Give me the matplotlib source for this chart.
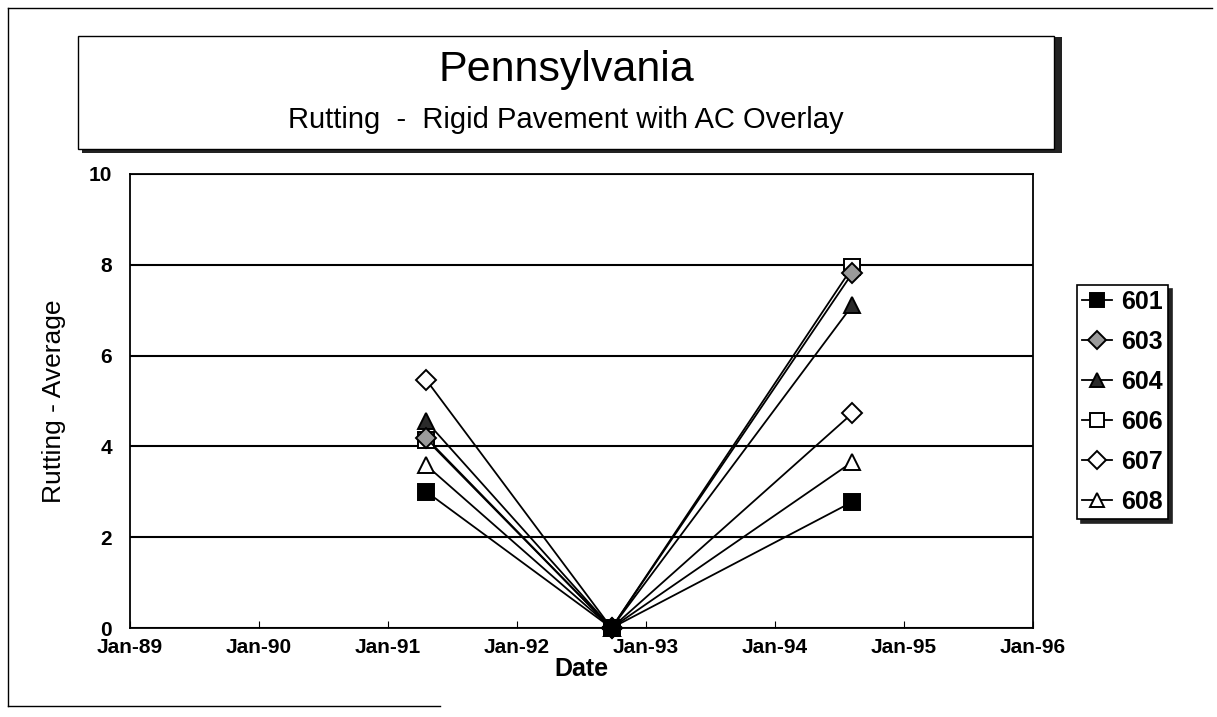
import matplotlib
matplotlib.use("Agg")
import matplotlib.pyplot as plt
import matplotlib.dates as mdates
from matplotlib.patches import Rectangle
from matplotlib.lines import Line2D
import pandas as pd

plt.rcParams["font.family"] = ["Liberation Sans", "DejaVu Sans"]

# survey dates and section averages
dates = pd.to_datetime(["1991-04-20", "1992-09-25", "1994-08-08"])
sections = ["601", "603", "604", "606", "607", "608"]
rut_601 = [3.0, 0.0, 2.78]
rut_603 = [4.18, 0.0, 7.82]
rut_604 = [4.55, 0.0, 7.11]
rut_606 = [4.15, 0.0, 7.95]
rut_607 = [5.46, 0.0, 4.73]
rut_608 = [3.58, 0.0, 3.66]

series = [rut_601, rut_603, rut_604, rut_606, rut_607, rut_608]
markers = ["s", "D", "^", "s", "D", "^"]
faces = ["black", "#9a9a9a", "#2a2a2a", "white", "white", "white"]
sizes = [11, 10, 11, 11, 10, 11]
layers = [6, 5, 3, 4, 3, 3]

W, H = 1217, 717
fig = plt.figure(figsize=(W / 100, H / 100), dpi=100)


def fx(px):
    return px / W


def fy(py):
    return 1 - py / H


# outer frame (scan border)
fig.add_artist(Line2D([fx(8), fx(1212)], [fy(8), fy(8)], color="black", lw=1))
fig.add_artist(Line2D([fx(8), fx(8)], [fy(8), fy(706)], color="black", lw=1))
fig.add_artist(Line2D([fx(8), fx(440)], [fy(706), fy(706)], color="black", lw=1))

# title box with shadow
fig.add_artist(Rectangle((fx(82), fy(153)), fx(1058) - fx(78), fy(36) - fy(153) - 0.002,
                         facecolor="#222222", edgecolor="none", transform=fig.transFigure))
fig.add_artist(Rectangle((fx(78), fy(149)), fx(1054) - fx(78), fy(36) - fy(149),
                         facecolor="white", edgecolor="black", lw=1, transform=fig.transFigure))
fig.text(fx(566), fy(70), "Pennsylvania", ha="center", va="center", fontsize=31)
fig.text(fx(566), fy(120), "Rutting  -  Rigid Pavement with AC Overlay", ha="center", va="center",
         fontsize=21)

ax = fig.add_axes([fx(130), fy(628), fx(1033) - fx(130), fy(174) - fy(628)])
for vals, name, mk, fc, ms, z in zip(series, sections, markers, faces, sizes, layers):
    ax.plot(dates, vals, color="black", lw=1.3, marker=mk, markersize=ms,
            markerfacecolor=fc, markeredgecolor="black", markeredgewidth=1.4,
            label=name, clip_on=False, zorder=z)

ax.set_ylim(0, 10)
ax.set_yticks([0, 2, 4, 6, 8, 10])
ax.set_xlim(pd.Timestamp("1989-01-01"), pd.Timestamp("1996-01-01"))
ax.xaxis.set_major_locator(mdates.YearLocator())
ax.xaxis.set_major_formatter(mdates.DateFormatter("%b-%y"))
ax.grid(axis="y", color="black", lw=1.5)
ax.set_axisbelow(True)
ax.tick_params(axis="x", direction="in", length=5, labelsize=15, pad=7)
ax.tick_params(axis="y", length=0, labelsize=15, pad=13)
for t in ax.get_xticklabels() + ax.get_yticklabels():
    t.set_fontweight("bold")
for sp in ax.spines.values():
    sp.set_linewidth(1.3)
ax.set_xlabel("Date", fontsize=18, fontweight="bold", labelpad=0)
ax.set_ylabel("Rutting - Average", fontsize=19, labelpad=16)

leg = fig.legend(loc="upper left", bbox_to_anchor=(fx(1077), fy(285)), frameon=True,
                 fancybox=False, edgecolor="black", handlelength=1.2,
                 handletextpad=0.35, labelspacing=0.64, borderpad=0.2, borderaxespad=0,
                 prop={"weight": "bold", "size": 18}, markerscale=0.9,
                 shadow={"color": "#222222", "alpha": 1, "ox": 3, "oy": -3})
leg.get_frame().set_linewidth(1.2)

fig.savefig("out.png", dpi=100)
